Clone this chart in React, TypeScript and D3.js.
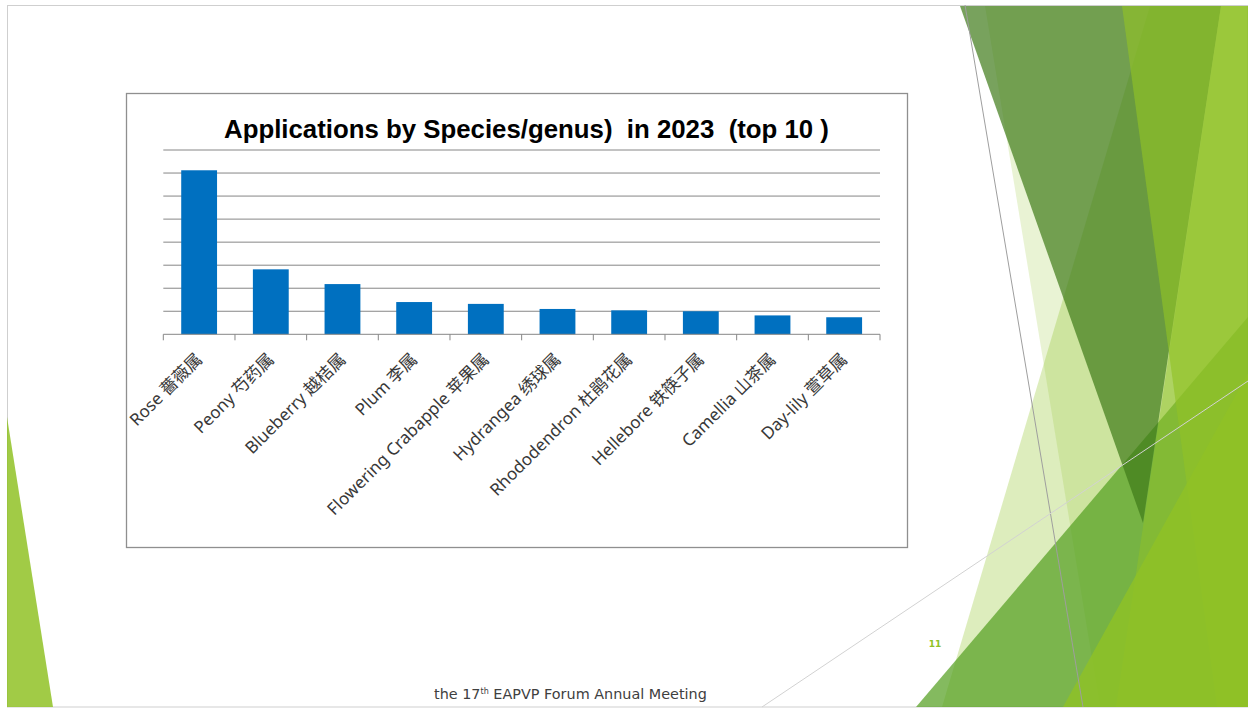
import * as d3 from "d3";

const categories = [
  "Rose 薔薇属",
  "Peony 芍药属",
  "Blueberry 越桔属",
  "Plum 李属",
  "Flowering Crabapple 苹果属",
  "Hydrangea 绣球属",
  "Rhododendron 杜鹃花属",
  "Hellebore 铁筷子属",
  "Camellia 山茶属",
  "Day-lily 萱草属",
];
const applications = [356, 141, 109, 70, 66, 55, 52, 50, 41, 37];
const yTicks = [50, 100, 150, 200, 250, 300, 350, 400];
const title = "Applications by Species/genus)  in 2023  (top 10 )";

// slide theme decoration (translucent facets on the right)
const facets = [
  { pts: "1150,6 1248,6 1248,707 942,707", fill: "#90C226", op: 0.3 },
  { pts: "985,6 1248,6 1248,707 1100,707", fill: "#90C226", op: 0.2 },
  { pts: "1248,317 1248,707 916,707", fill: "#54A021", op: 0.72 },
  { pts: "960,6 1221,6 1143,523", fill: "rgb(63,123,24)", op: 0.7 },
  { pts: "1221,6 1248,6 1248,707 1116,707", fill: "#90C226", op: 0.5 },
  { pts: "1122,6 1248,6 1248,707 1217,707", fill: "#90C226", op: 0.65 },
  { pts: "1248,373 1248,707 1063,707", fill: "#90C226", op: 0.8 },
  { pts: "7,417 7,707 53,707", fill: "#90C226", op: 0.85 },
];

export default function App() {
  const W = 1253;
  const H = 711;
  const plot = { left: 163.3, right: 880, top: 150, bottom: 334.3 };

  const x = d3
    .scaleBand<string>()
    .domain(categories)
    .range([plot.left, plot.right])
    .paddingInner(0.5)
    .paddingOuter(0.25);
  const y = d3.scaleLinear().domain([0, 400]).range([plot.bottom, plot.top]);

  const step = x.step();
  const bounds = d3.range(categories.length + 1).map((i) => plot.left + i * step);

  return (
    <svg
      width={W}
      height={H}
      style={{ position: "absolute", left: 0, top: 0, background: "#fff" }}
    >
      <rect x={7.5} y={5.5} width={1240} height={701.5} fill="#fff" stroke="#cfcfcf" />

      {facets.map((f, i) => (
        <polygon key={i} points={f.pts} fill={f.fill} fillOpacity={f.op} />
      ))}
      <line x1={965} y1={5} x2={1083} y2={707} stroke="#9e9e9e" strokeWidth={1} />
      <line x1={762} y1={707} x2={1248} y2={381} stroke="#d2d2d2" strokeWidth={1} />

      {/* chart frame */}
      <rect x={126.5} y={93.5} width={781} height={454} fill="#fff" stroke="#8f8f8f" strokeWidth={1.3} />

      <text
        x={526.5}
        y={138}
        textAnchor="middle"
        fontFamily="'Liberation Sans', Arial, sans-serif"
        fontWeight="bold"
        fontSize={25.8}
        fill="#000"
        style={{ whiteSpace: "pre" }}
      >
        {title}
      </text>

      {yTicks.map((t) => (
        <line key={t} x1={plot.left} x2={plot.right} y1={y(t)} y2={y(t)} stroke="#868686" strokeWidth={1} />
      ))}

      {categories.map((c, i) => (
        <rect
          key={c}
          x={x(c)}
          y={y(applications[i])}
          width={x.bandwidth()}
          height={y(0) - y(applications[i])}
          fill="#0070C0"
        />
      ))}

      <line x1={plot.left} x2={plot.right} y1={y(0)} y2={y(0)} stroke="#868686" strokeWidth={1} />
      {bounds.map((b, i) => (
        <line key={i} x1={b} x2={b} y1={y(0)} y2={y(0) + 6} stroke="#868686" strokeWidth={1} />
      ))}

      {categories.map((c) => {
        const cx = (x(c) ?? 0) + x.bandwidth() / 2;
        return (
          <text
            key={c}
            transform={`translate(${cx},${y(0) + 22}) rotate(-45)`}
            textAnchor="end"
            dy="0.35em"
            fontFamily="'Noto Sans', 'Noto Sans CJK SC', sans-serif"
            fontSize={17}
            fill="#383838"
          >
            {c}
          </text>
        );
      })}

      <text
        x={935}
        y={647}
        textAnchor="middle"
        fontFamily="'DejaVu Sans', sans-serif"
        fontWeight="bold"
        fontSize={9}
        fill="#90C226"
      >
        11
      </text>

      <text
        x={434}
        y={699}
        fontFamily="'DejaVu Sans', sans-serif"
        fontSize={14.4}
        fill="#404040"
      >
        the 17
        <tspan fontSize={8} dy={-5}>th</tspan>
        <tspan dy={5}> EAPVP Forum Annual Meeting</tspan>
      </text>
    </svg>
  );
}
